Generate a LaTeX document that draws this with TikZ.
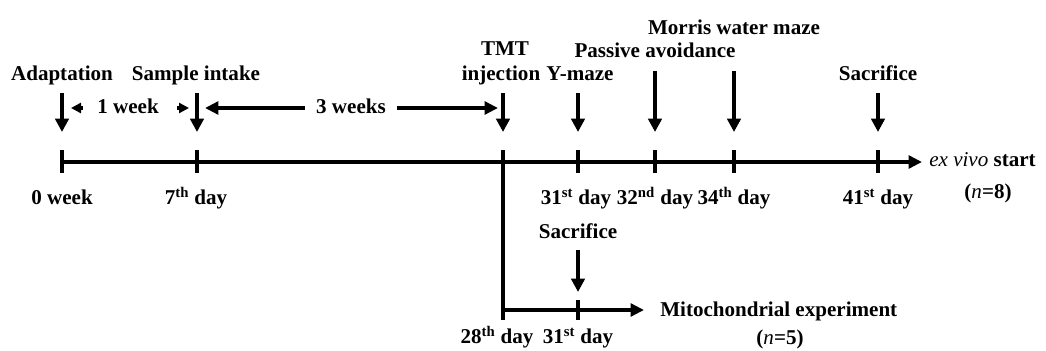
\documentclass[tikz,border=0pt]{standalone}
\usepackage{fontspec}
\setmainfont{Liberation Serif}
\usetikzlibrary{arrows.meta}
\begin{document}
\begin{tikzpicture}[x=0.75pt,y=-0.75pt,
  ln/.style={line width=2.6pt},
  dn/.style={line width=2.6pt,-{Triangle[length=10pt,width=10pt]}},
  hz/.style={line width=2.6pt,-{Triangle[length=10pt,width=9.5pt]}},
  sm/.style={line width=2.4pt,-{Triangle[length=7.5pt,width=7.5pt]}},
  lab/.style={font=\fontsize{15.8}{18}\selectfont\bfseries, inner sep=0pt, anchor=base},
]
\useasboundingbox (0,0) rectangle (1046,350);
% main timeline coordinates
\coordinate (t0) at (62,162);
\coordinate (t7) at (197,162);
\coordinate (t28) at (503,162);
\coordinate (t31) at (578,162);
\coordinate (t32) at (655,162);
\coordinate (t34) at (734,162);
\coordinate (t41) at (878,162);
\coordinate (tend) at (922,162);
\draw[hz] (t0) -- (tend);
\foreach \t in {t0,t7,t28,t31,t32,t34,t41}
  \draw[ln] ([yshift=9pt]\t) -- ([yshift=-8.3pt]\t);
% event arrows
\coordinate (a0) at (62,93);   \coordinate (b0) at (62,132);
\coordinate (a7) at (197,93);  \coordinate (b7) at (197,132);
\coordinate (a28) at (503,93); \coordinate (b28) at (503,132);
\coordinate (a31) at (578,93); \coordinate (b31) at (578,132);
\coordinate (a32) at (655,71); \coordinate (b32) at (655,132);
\coordinate (a34) at (734,71); \coordinate (b34) at (734,132);
\coordinate (a41) at (878,93); \coordinate (b41) at (878,132);
\foreach \i in {0,7,28,31,32,34,41}
  \draw[dn] (a\i) -- (b\i);
% top labels
\node[lab] (adapt) at (62,80) {Adaptation};
\node[lab] (sample) at (196,80) {Sample intake};
\node[lab] (tmt) at (505,55) {TMT};
\node[lab] (inj) at (501,80) {injection};
\node[lab] (ymaze) at (580,80) {Y-maze};
\node[lab] (passive) at (655,57) {Passive avoidance};
\node[lab] (morris) at (734,34) {Morris water maze};
\node[lab] (sac) at (878,80) {Sacrifice};
% intervals
\node[lab] (w1) at (128,113) {1 week};
\node[lab] (w3) at (351,113) {3 weeks};
\coordinate (w1l) at (83,108); \coordinate (w1lt) at (71,108);
\coordinate (w1r) at (177,108); \coordinate (w1rt) at (189,108);
\draw[sm] (w1l) -- (w1lt);
\draw[sm] (w1r) -- (w1rt);
\coordinate (w3l) at (305,108); \coordinate (w3lt) at (205,108);
\coordinate (w3r) at (397,108); \coordinate (w3rt) at (498,108);
\draw[hz] (w3l) -- (w3lt);
\draw[hz] (w3r) -- (w3rt);
% bottom labels
\node[lab] (d0) at (62,204) {0 week};
\node[lab] (d7) at (196,204) {7\textsuperscript{th} day};
\node[lab] (d31) at (576,204) {31\textsuperscript{st} day};
\node[lab] (d32) at (655,204) {32\textsuperscript{nd} day};
\node[lab] (d34) at (734,204) {34\textsuperscript{th} day};
\node[lab] (d41) at (878,204) {41\textsuperscript{st} day};
\node[lab, anchor=base west] (exvivo) at (929,166) {\textit{\mdseries ex vivo} start};
\node[lab] (n8) at (988,198) {(\textit{\mdseries n}=8)};
% branch
\coordinate (v0) at (503,320);
\coordinate (br0) at (503,310);
\coordinate (br31) at (578,310);
\coordinate (brend) at (644,310);
\draw[ln] ([yshift=8.3pt]t28) -- (v0);
\draw[hz] (br0) -- (brend);
\draw[ln] ([yshift=7.5pt]br31) -- ([yshift=-7.5pt]br31);
\node[lab] (sac2) at (578,238) {Sacrifice};
\coordinate (sa) at (578,250); \coordinate (sb) at (578,292);
\draw[dn] (sa) -- (sb);
\node[lab, anchor=base west] (mito) at (660,316) {Mitochondrial experiment};
\node[lab] (n5) at (780,344) {(\textit{\mdseries n}=5)};
\node[lab] (d28) at (497,343) {28\textsuperscript{th} day};
\node[lab] (d31b) at (578,343) {31\textsuperscript{st} day};
\end{tikzpicture}
\end{document}
